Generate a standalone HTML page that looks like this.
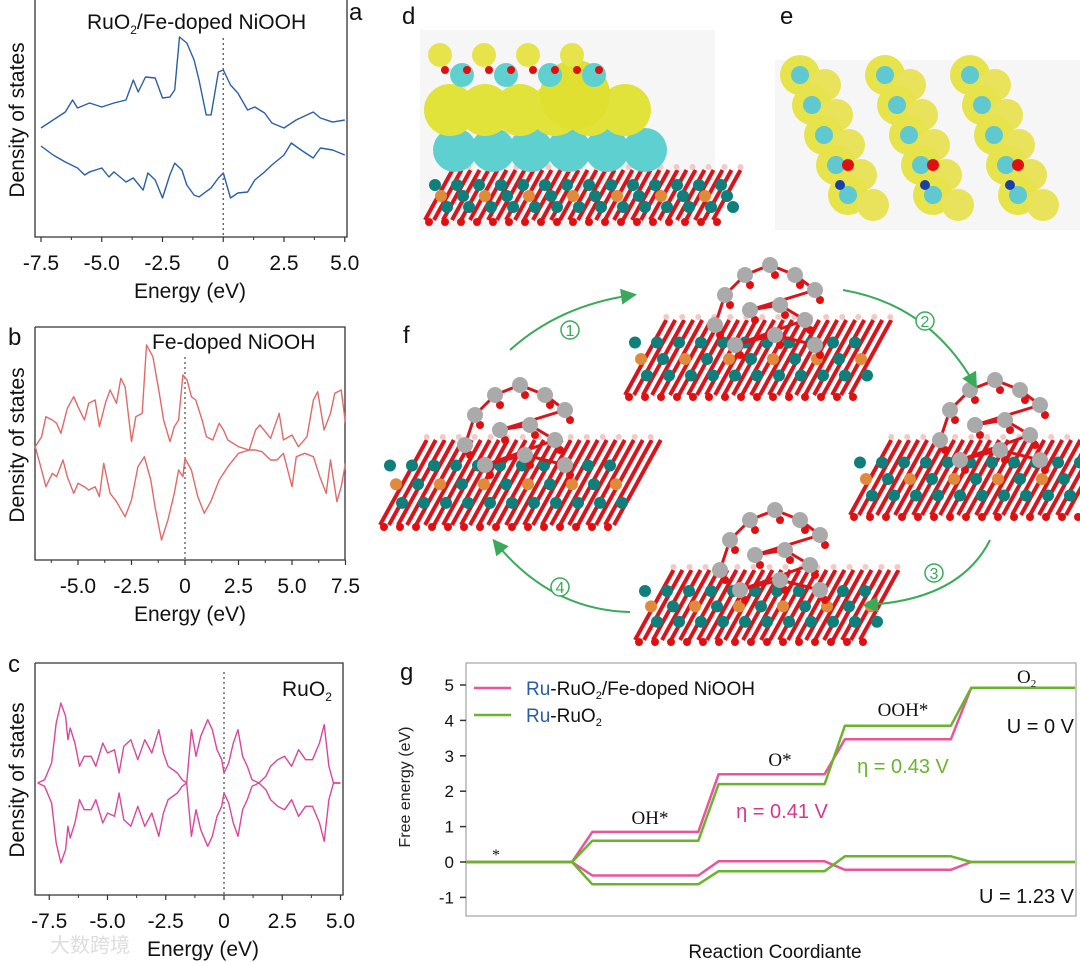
<!DOCTYPE html>
<html><head><meta charset="utf-8"><style>
html,body{margin:0;padding:0;background:#fff;}
svg{display:block;font-family:"Liberation Sans",Arial,sans-serif;}
</style></head><body>
<svg id="fig" width="1080" height="962" viewBox="0 0 1080 962" xmlns="http://www.w3.org/2000/svg">
<g id="pa"></g>
<g id="pb"></g>
<g id="pc"></g>
<g id="pd"></g>
<g id="pe"></g>
<g id="pf"></g>
<g id="pg"></g>
</svg>
<script>
// ---------- DATA ----------
const aUpE=[-7.5,-7,-6.5,-6.2,-6,-5.5,-5,-4.5,-4,-3.7,-3.5,-3.2,-2.8,-2.5,-2.2,-2,-1.8,-1.5,-1.2,-1,-0.7,-0.5,-0.2,0,0.3,0.6,1,1.3,1.7,2,2.5,3,3.7,4,4.5,5];
const aUpV=[-0.8,-0.13,0.55,1.56,0.89,1.31,0.97,1.31,1.56,3.25,2.24,3.5,3.42,1.73,1.81,2.41,6.88,6.37,4.94,3.25,0.3,0.3,3.92,4.09,2.83,2.15,0.72,0.97,0.46,-0.38,-0.8,-0.13,0.55,0.04,-0.3,-0.13];
const aDnE=[-7.5,-7,-6.5,-6,-5.7,-5.5,-5,-4.7,-4.5,-4,-3.7,-3.3,-3.1,-2.8,-2.5,-2.2,-2,-1.7,-1.5,-1.2,-1,-0.5,-0.2,0,0.3,0.6,1,1.3,1.7,2,2.5,2.8,3.2,3.7,4,4.5,5];
const aDnV=[-2.32,-3.08,-3.67,-4.18,-4.77,-4.51,-4.18,-4.94,-4.51,-5.36,-5.02,-6.04,-4.6,-5.19,-6.71,-4.77,-3.76,-4.35,-5.61,-6.46,-6.62,-5.86,-5.02,-4.6,-6.71,-6.29,-6.2,-5.19,-4.51,-3.92,-3.08,-2.07,-2.66,-3.33,-2.49,-2.66,-3.08];
const aTicks=[-7.5,-5.0,-2.5,0,2.5,5.0];
const aTickLabels=["-7.5","-5.0","-2.5","0","2.5","5.0"];

const bUpE=[-7,-6.7,-6.5,-6.2,-6,-5.8,-5.5,-5.2,-5,-4.7,-4.5,-4.2,-4,-3.7,-3.5,-3.2,-3,-2.8,-2.5,-2.3,-2,-1.8,-1.5,-1.2,-1,-0.7,-0.5,-0.3,-0.1,0.1,0.3,0.5,0.8,1,1.3,1.6,1.8,2,2.5,3,3.3,3.5,4,4.4,4.6,5,5.3,5.7,6,6.2,6.5,6.8,7,7.3,7.5];
const bUpV=[0.33,1.33,3.33,3,2.67,1.67,4.17,5.33,4.33,3,4.67,5,2.33,4.83,6,4.67,7.17,6.33,0.83,3.33,3.67,10.5,9.33,5.67,3,0.83,2.33,3,7.5,7,5.33,5,3,1.33,1,2.67,2,1,0.33,0,2,2.5,1.17,3.67,1,1.5,0.33,1.33,5,5.83,2,3.67,5.67,6,2.67];
const bDnE=[-7,-6.7,-6.5,-6.2,-6,-5.7,-5.5,-5.2,-5,-4.7,-4.5,-4.2,-4,-3.8,-3.5,-3.2,-2.8,-2.5,-2.2,-1.9,-1.6,-1.4,-1.1,-0.8,-0.5,-0.3,-0.1,0,0.3,0.6,0.9,1.2,1.6,2,2.5,3,3.3,3.6,4,4.3,4.6,5,5.2,5.6,6,6.3,6.6,6.8,7.1,7.3,7.5];
const bDnV=[0.33,-2,-3.67,-2.33,-2.67,-1,-2.67,-4.33,-3.33,-3.67,-4,-3.67,-4.67,-1.33,-4.33,-5.17,-6.67,-5,-1.67,-0.67,-3,-5.67,-9,-7,-4.33,-2,-2.67,-0.83,-2,-4.67,-6.33,-5.17,-3,-1.67,-0.33,0,0,-0.17,-1,-1,-0.33,-3.67,-0.67,-0.33,-0.67,-2.67,-4.33,-1,-5.17,-3.67,-1.33];
const bTicks=[-5.0,-2.5,0,2.5,5.0,7.5];
const bTickLabels=["-5.0","-2.5","0","2.5","5.0","7.5"];

const cE=[-8,-7.7,-7.4,-7.2,-7,-6.8,-6.7,-6.6,-6.4,-6.2,-6,-5.7,-5.5,-5.2,-5,-4.7,-4.5,-4.3,-4,-3.7,-3.4,-3.1,-2.8,-2.6,-2.4,-2,-1.8,-1.6,-1.4,-1.2,-1,-0.7,-0.5,-0.3,-0.1,0,0.2,0.4,0.6,0.8,1,1.2,1.5,1.8,2,2.3,2.6,2.9,3.2,3.5,3.8,4.1,4.3,4.5,4.7,5];
const cV=[0,0.33,2,6,8,6.67,4.33,5.5,4,1.67,2.67,2.67,1.67,4,3,3.33,1,3.67,4.33,2.33,4.33,3,5.33,3,1.67,1,0.33,0,5.33,2.67,4.67,6.33,5.33,3.33,2.33,1,2,4,5.33,2.67,1.67,0.33,0,0.67,1.67,2.33,2.67,1.67,3.33,2.33,2.33,4,5.83,1.67,0,0];
const cTicks=[-7.5,-5.0,-2.5,0,2.5,5.0];
const cTickLabels=["-7.5","-5.0","-2.5","0","2.5","5.0"];

const gSteps=["*","OH*","O*","OOH*","O2"];
const gPink=[0,0.85,2.48,3.47,4.92];
const gGreen=[0,0.6,2.2,3.85,4.92];
const gU=1.23;
const gYTicks=[-1,0,1,2,3,4,5];

// ---------- helpers ----------
const NS="http://www.w3.org/2000/svg";
function mk(parent,tag,attrs,text){const e=document.createElementNS(NS,tag);for(const k in attrs)e.setAttribute(k,attrs[k]);if(text!==undefined)e.textContent=text;parent.appendChild(e);return e;}
function pathFrom(xs,ys,sx,sy){let d="";for(let i=0;i<xs.length;i++){d+=(i?"L":"M")+sx(xs[i]).toFixed(1)+","+sy(ys[i]).toFixed(1);}return d;}

function dosPanel(g,o){
  const sx=e=>o.x0+(e-o.e0)*o.k;
  const box=mk(g,"path",{d:`M${o.L},${o.T}V${o.B}H${o.R}V${o.T}`+(o.top?`H${o.L}`:""),fill:"none",stroke:"#333","stroke-width":1.3});
  
  const zl=mk(g,"line",{x1:sx(0),x2:sx(0),y1:o.zT,y2:o.B,stroke:"#555","stroke-width":1.3,"stroke-dasharray":"2,3"});
  
  o.ticks.forEach((t,i)=>{
    const tk=mk(g,"line",{x1:sx(t),x2:sx(t),y1:o.B,y2:o.B+5,stroke:"#333","stroke-width":1.2});
    
    const mt=t-1.25;if(sx(mt)>o.L+2){const m=mk(g,"line",{x1:sx(mt),x2:sx(mt),y1:o.B,y2:o.B+3,stroke:"#333","stroke-width":1});}
    const tl=mk(g,"text",{x:sx(t),y:o.B+33,"text-anchor":"middle","font-size":21,fill:"#111"},o.labels[i]);
    
  });
  const xt=mk(g,"text",{x:o.xtX,y:o.B+61,"text-anchor":"middle","font-size":21,fill:"#111"},"Energy (eV)");
  
  const yt=mk(g,"text",{x:0,y:0,transform:`translate(24,${o.ytY}) rotate(-90)`,"text-anchor":"middle","font-size":21,fill:"#111"},"Density of states");
  
  o.series.forEach(s=>{
    const p=mk(g,"path",{d:pathFrom(s.e,s.v,sx,s.sy),fill:"none",stroke:o.color,"stroke-width":1.4,"stroke-linejoin":"round"});
    
  });
  const pl=mk(g,"text",{x:o.plX,y:o.plY,"font-size":24,fill:"#111"},o.letter);
  
}

// panel a
const ga=document.getElementById("pa");
const aSy=v=>118.5-v*11.85;
dosPanel(ga,{x0:41,e0:-7.5,k:24.3,L:35,R:347,T:0,B:237,top:false,zT:38,ticks:aTicks,labels:aTickLabels,xtX:190,ytY:120,color:"#2b5ea8",
  series:[{e:aUpE,v:aUpV,sy:aSy,name:'spin-up-curve'},{e:aDnE,v:aDnV,sy:aSy,name:'spin-down-curve'}],letter:"a",plX:349,plY:20});
{const t=mk(ga,"text",{x:87,y:29,"font-size":21,fill:"#111"});
 t.innerHTML='RuO<tspan font-size="12" dy="5">2</tspan><tspan dy="-5">/Fe-doped NiOOH</tspan>';}

// panel b
const gb=document.getElementById("pb");
const bSy=v=>450-v*10;
dosPanel(gb,{x0:185,e0:0,k:21.4,L:35,R:345,T:327,B:560,top:true,zT:357,ticks:bTicks,labels:bTickLabels,xtX:190,ytY:445,color:"#e06a6a",
  series:[{e:bUpE,v:bUpV,sy:bSy,name:'spin-up-curve'},{e:bDnE,v:bDnV,sy:bSy,name:'spin-down-curve'}],letter:"b",plX:8,plY:345});
{const t=mk(gb,"text",{x:152,y:349,"font-size":21,fill:"#111"},"Fe-doped NiOOH");}

// panel c
const gc=document.getElementById("pc");
dosPanel(gc,{x0:224,e0:0,k:23.3,L:35,R:343,T:663,B:895,top:true,zT:672,ticks:cTicks,labels:cTickLabels,xtX:203,ytY:780,color:"#d9479a",
  series:[{e:cE,v:cV,sy:v=>783-v*10,name:'spin-up-curve'},{e:cE,v:cV,sy:v=>783+v*10,name:'spin-down-curve'}],letter:"c",plX:8,plY:672});
{const t=mk(gc,"text",{x:282,y:696,"font-size":21,fill:"#111"});
 t.innerHTML='RuO<tspan font-size="12" dy="5">2</tspan>';}
{const t=mk(gc,"text",{x:2,y:952,"font-size":20,fill:"#ddd"},"大数跨境");t.setAttribute('font-family','"Liberation Sans","Noto Sans CJK SC",sans-serif');t.setAttribute('x','50');}

// ---------- decorative molecular images ----------
function ball(g,x,y,r,c){const e=mk(g,"circle",{cx:x,cy:y,r:r,fill:c});return e;}
function slab(g,x,y,w,h){
  const grp=mk(g,"g",{});
  for(let i=0;i<w;i+=9){mk(grp,"line",{x1:x+i,y1:y+h,x2:x+i+h*0.55,y2:y,stroke:"#d8141c","stroke-width":4});}
  for(let i=0;i<w;i+=22){for(let j=0;j<3;j++){ball(grp,x+i+10+j*6,y+h*0.3+j*h*0.22,6,j==1&&i%44==0?"#e08a3c":"#0e7f7a");}}
  for(let i=0;i<w;i+=16){ball(grp,x+i+4,y+h+2,4,"#e01010");ball(grp,x+i+h*0.55,y-3,3,"#f3c8c8");}
}
function cluster(g,x,y){
  const grp=mk(g,"g",{});
  const pts=[[0,60],[10,30],[30,10],[55,0],[80,10],[100,25],[35,45],[65,40],[90,55],[20,80],[60,70],[100,80]];
  pts.forEach((p,i)=>{if(i>0){const q=pts[i-1];mk(grp,"line",{x1:x+q[0],y1:y+q[1],x2:x+p[0],y2:y+p[1],stroke:"#d8141c","stroke-width":3});}});
  pts.forEach((p,i)=>{ball(grp,x+p[0]+5,y+p[1]+10,4,"#e01010");ball(grp,x+p[0],y+p[1],8,"#aaaaaa");});
}
const gd=document.getElementById("pd");
{const t=mk(gd,"text",{x:402,y:24,"font-size":24,fill:"#111"},"d");
 const bg=mk(gd,"rect",{x:420,y:30,width:295,height:200,fill:"#f6f6f6"});
 slab(gd,425,170,290,50);
 for(let i=0;i<6;i++){ball(gd,455+i*38,150,22,"#5fd0d0");}
 for(let i=0;i<6;i++){ball(gd,450+i*35,110,26,"#e2e33a");}
 ball(gd,575,95,35,"#e0e030");
 for(let i=0;i<8;i++){ball(gd,440+i*22,55+(i%2)*20,12,i%2?"#5fd0d0":"#e6e44a");ball(gd,445+i*22,70,4,"#e01010");}}
const ge=document.getElementById("pe");
{const t=mk(ge,"text",{x:780,y:24,"font-size":24,fill:"#111"},"e");
 const bg=mk(ge,"rect",{x:775,y:60,width:305,height:170,fill:"#f6f6f6"});
 for(let c=0;c<3;c++){for(let r=0;r<5;r++){const x=800+c*85+r*12,y=75+r*30;ball(ge,x,y,20,"#e6e44a");ball(ge,x+25,y+10,16,"#e8e35a");ball(ge,x,y,9,"#5fc8d0");}
  ball(ge,868+c*85-20,165,6,"#e01010");ball(ge,860+c*85-20,185,5,"#1a3fa8");}}

const gf=document.getElementById("pf");
{const t=mk(gf,"text",{x:403,y:343,"font-size":24,fill:"#111"},"f");
 slab(gf,625,320,230,75);cluster(gf,715,265);
 slab(gf,380,440,240,85);cluster(gf,465,385);
 slab(gf,850,440,225,75);cluster(gf,940,380);
 slab(gf,635,570,230,70);cluster(gf,720,510);
 const arrows=[["M510,350 Q560,305 633,295",570,330,"1"],["M843,290 Q930,305 975,385",925,321,"2"],["M990,540 Q960,600 866,605",934,573,"3"],["M630,612 Q550,610 495,542",560,587,"4"]];
 mk(gf,"defs",{}).innerHTML='<marker id="ah" markerWidth="8" markerHeight="8" refX="6" refY="4" orient="auto"><path d="M0,0L8,4L0,8z" fill="#3aaa5a"/></marker>';
 arrows.forEach(a=>{const p=mk(gf,"path",{d:a[0],fill:"none",stroke:"#3aaa5a","stroke-width":2,"marker-end":"url(#ah)"});
  const c=mk(gf,"circle",{cx:a[1],cy:a[2],r:9,fill:"#fff",stroke:"#3aaa5a","stroke-width":1.5});
  const t=mk(gf,"text",{x:a[1],y:a[2]+6,"text-anchor":"middle","font-size":16,fill:"#3aaa5a"},a[3]);});}

// ---------- panel g ----------
const gg=document.getElementById("pg");
const gL=466,gR=1076,gT=663,gB=916;
const gy=v=>862-v*35.4;
const segX=i=>466+i*126.3;
const segW=106;
{const fr=mk(gg,"rect",{x:gL,y:gT,width:gR-gL,height:gB-gT,fill:"none",stroke:"#aaa","stroke-width":1.3});
 const gl=mk(gg,"text",{x:400,y:680,"font-size":24,fill:"#111"},"g");
 gYTicks.forEach(t=>{const tk=mk(gg,"line",{x1:gL-6,x2:gL,y1:gy(t),y2:gy(t),stroke:"#333","stroke-width":1.5});
  const tl=mk(gg,"text",{x:gL-12,y:gy(t)+6,"text-anchor":"end","font-size":17,fill:"#111"},String(t));});
 const yt=mk(gg,"text",{transform:"translate(410,787) rotate(-90)","text-anchor":"middle","font-size":16,fill:"#222"},"Free energy (eV)");
 const xt=mk(gg,"text",{x:775,y:958,"text-anchor":"middle","font-size":19,fill:"#111"},"Reaction Coordiante");}
function stepPath(vals){let d="";vals.forEach((v,i)=>{const x1=segX(i),x2=Math.min(segX(i)+segW,gR-1);d+=(i?"L":"M")+x1.toFixed(1)+","+gy(v).toFixed(1)+"L"+x2.toFixed(1)+","+gy(v).toFixed(1);});return d;}
const series=[[gPink,"#e8559a","pink"],[gGreen,"#6ab42d","green"]];
series.forEach(s=>{
  const p=mk(gg,"path",{d:stepPath(s[0]),fill:"none",stroke:s[1],"stroke-width":2.5,"stroke-linejoin":"round"});
  const shifted=s[0].map((v,i)=>v-i*gU);
  const q=mk(gg,"path",{d:stepPath(shifted),fill:"none",stroke:s[1],"stroke-width":2.5,"stroke-linejoin":"round"});
});
[["*",496,860,16],["OH*",650,824,19],["O*",780,766,19],["OOH*",903,716,19]].forEach(l=>{const t=mk(gg,"text",{x:l[1],y:l[2],"text-anchor":"middle","font-size":l[3],fill:"#111","font-family":"Liberation Serif,serif"},l[0]);});
{const t=mk(gg,"text",{x:1017,y:683,"font-size":19,fill:"#111","font-family":"Liberation Serif,serif"});t.innerHTML='O<tspan font-size="11" dy="4">2</tspan>';}
[["U = 0 V",1074,733,"#111","end"],["U = 1.23 V",1074,903,"#111","end"],["η = 0.41 V",782,818,"#d9368a","middle"],["η = 0.43 V",903,773,"#6ab42d","middle"]].forEach(l=>{const t=mk(gg,"text",{x:l[1],y:l[2],"text-anchor":l[4],"font-size":20,fill:l[3]},l[0]);});
{const l1=mk(gg,"line",{x1:474,x2:511,y1:688,y2:688,stroke:"#e8559a","stroke-width":2.5});
 const l2=mk(gg,"line",{x1:474,x2:511,y1:715,y2:715,stroke:"#6ab42d","stroke-width":2.5});
 const t1=mk(gg,"text",{x:526,y:695,"font-size":19,fill:"#111"});t1.innerHTML='<tspan fill="#2a5caa">Ru</tspan>-RuO<tspan font-size="11" dy="4">2</tspan><tspan dy="-4">/Fe-doped NiOOH</tspan>';
 const t2=mk(gg,"text",{x:526,y:722,"font-size":19,fill:"#111"});t2.innerHTML='<tspan fill="#2a5caa">Ru</tspan>-RuO<tspan font-size="11" dy="4">2</tspan>';}
</script>
</body></html>
